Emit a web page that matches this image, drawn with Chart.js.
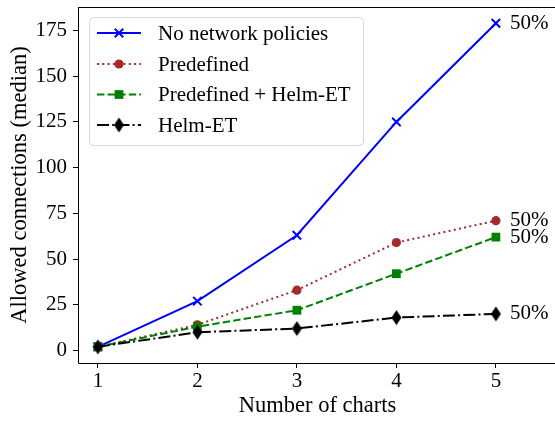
<!DOCTYPE html>
<html>
<head>
<meta charset="utf-8">
<script src="https://cdn.jsdelivr.net/npm/chart.js@4"></script>
<style>
  html, body { margin: 0; padding: 0; background: #fff; overflow: hidden; }
  #wrap { width: 555px; height: 422px; overflow: hidden; }
</style>
</head>
<body>
<div id="wrap"><canvas id="myChart" width="560" height="422"></canvas></div>
<script>
const charts = [1, 2, 3, 4, 5];
const noPolicies = [2, 27, 63, 125, 179];
const predefined = [2, 14, 33, 59, 71];
const predefinedHelm = [2, 13, 22, 42, 62];
const helmET = [2, 10, 12, 18, 20];
const seriesNames = ['No network policies', 'Predefined', 'Predefined + Helm-ET', 'Helm-ET'];
const endLabels = ['50%', '50%', '50%', '50%'];
const yTicks = [0, 25, 50, 75, 100, 125, 150, 175];

const FONT = "'Liberation Serif', 'DejaVu Serif', serif";
const TXT = 21;

// thin diamond like matplotlib 'd'
function thinDiamond() {
  const c = document.createElement('canvas');
  c.width = 11; c.height = 16;
  const g = c.getContext('2d');
  g.fillStyle = '#000';
  g.beginPath();
  g.moveTo(5.5, 0.5);
  g.lineTo(10.5, 8);
  g.lineTo(5.5, 15.5);
  g.lineTo(0.5, 8);
  g.closePath();
  g.fill();
  return c;
}
const diamond = thinDiamond();

function pts(arr) {
  return charts.map((x, i) => ({ x: x, y: arr[i] }));
}

const datasets = [
  { label: seriesNames[0], data: pts(noPolicies), borderColor: '#0000ff', backgroundColor: '#0000ff',
    borderWidth: 2, pointStyle: 'crossRot', pointRadius: 6, pointBorderWidth: 2, order: 4 },
  { label: seriesNames[1], data: pts(predefined), borderColor: '#a52a2a', backgroundColor: '#a52a2a',
    borderWidth: 2, borderDash: [2, 3.3], pointStyle: 'circle', pointRadius: 4.6, pointBorderWidth: 0, order: 3 },
  { label: seriesNames[2], data: pts(predefinedHelm), borderColor: '#008000', backgroundColor: '#008000',
    borderWidth: 2, borderDash: [7.4, 3.2], pointStyle: 'rect', pointRadius: 6.2, pointBorderWidth: 0, order: 2 },
  { label: seriesNames[3], data: pts(helmET), borderColor: '#000000', backgroundColor: '#000000',
    borderWidth: 2, borderDash: [12, 3.2, 2, 3.2], pointStyle: diamond, pointRadius: 7, order: 1 }
];

const framePlugin = {
  id: 'frame',
  afterDraw(chart) {
    const { ctx, chartArea: a, scales } = chart;
    ctx.save();
    // spines: left, bottom, top (right one sits outside the picture)
    ctx.strokeStyle = '#000';
    ctx.lineWidth = 1;
    ctx.beginPath();
    ctx.moveTo(a.left + 0.5, a.top);
    ctx.lineTo(a.left + 0.5, a.bottom + 0.5);
    ctx.lineTo(a.right, a.bottom + 0.5);
    ctx.moveTo(a.left, a.top + 0.5);
    ctx.lineTo(a.right, a.top + 0.5);
    ctx.stroke();

    // end labels
    ctx.font = TXT + 'px ' + FONT;
    ctx.fillStyle = '#000';
    ctx.textBaseline = 'middle';
    ctx.textAlign = 'left';
    const ends = [noPolicies, predefined, predefinedHelm, helmET];
    ends.forEach((arr, i) => {
      const last = arr.length - 1;
      const px = scales.x.getPixelForValue(charts[last]);
      const py = scales.y.getPixelForValue(arr[last]);
      ctx.fillText(endLabels[i], px + 14, py);
    });

    // legend
    const bx = 89, by = 17, bw = 274, bh = 128, r = 4;
    ctx.fillStyle = 'rgba(255,255,255,0.8)';
    ctx.strokeStyle = '#d6d6d6';
    ctx.lineWidth = 1;
    ctx.beginPath();
    ctx.roundRect(bx + 0.5, by + 0.5, bw, bh, r);
    ctx.fill();
    ctx.stroke();
    const rows = [33, 64, 94.5, 125];
    chart.data.datasets.forEach((ds, i) => {
      const y = rows[i];
      ctx.strokeStyle = ds.borderColor;
      ctx.lineWidth = ds.borderWidth;
      ctx.setLineDash(ds.borderDash || []);
      ctx.beginPath();
      ctx.moveTo(97, y);
      ctx.lineTo(141, y);
      ctx.stroke();
      ctx.setLineDash([]);
      ctx.fillStyle = ds.backgroundColor;
      ctx.strokeStyle = ds.borderColor;
      ctx.lineWidth = ds.pointBorderWidth || 0;
      Chart.helpers.drawPoint(ctx, { pointStyle: ds.pointStyle, radius: ds.pointRadius, borderWidth: ds.pointBorderWidth || 0 }, 119, y);
      ctx.fillStyle = '#000';
      ctx.font = TXT + 'px ' + FONT;
      ctx.fillText(ds.label, 158, y + 1);
    });
    ctx.restore();
  }
};

new Chart(document.getElementById('myChart'), {
  type: 'line',
  data: { datasets: datasets },
  options: {
    responsive: false,
    animation: false,
    layout: { autoPadding: false, padding: { top: 7, right: 3, bottom: 0, left: 0 } },
    plugins: { legend: { display: false }, tooltip: { enabled: false } },
    scales: {
      x: {
        type: 'linear', min: 0.8, max: 5.614,
        afterBuildTicks: (s) => { s.ticks = charts.map(v => ({ value: v })); },
        afterFit: (s) => { s.height = 59; s.paddingLeft = 0; s.paddingRight = 0; },
        grid: { drawOnChartArea: false, drawTicks: true, tickLength: 5, color: '#000' },
        border: { display: false },
        ticks: { color: '#000', font: { family: FONT, size: TXT }, padding: 1, maxRotation: 0 },
        title: { display: true, text: 'Number of charts', color: '#000', font: { family: FONT, size: 22.5 }, padding: { top: 0, bottom: 2 } }
      },
      y: {
        type: 'linear', min: -6.85, max: 187.85,
        afterBuildTicks: (s) => { s.ticks = yTicks.map(v => ({ value: v })); },
        afterFit: (s) => { s.width = 78; s.paddingTop = 0; s.paddingBottom = 0; },
        grid: { drawOnChartArea: false, drawTicks: true, tickLength: 5, color: '#000' },
        border: { display: false },
        ticks: { color: '#000', font: { family: FONT, size: TXT }, padding: 6 },
        title: { display: true, text: 'Allowed connections (median)', color: '#000', font: { family: FONT, size: 22.5 }, padding: { top: 6.5, bottom: 0 } }
      }
    }
  },
  plugins: [framePlugin]
});
</script>
</body>
</html>
